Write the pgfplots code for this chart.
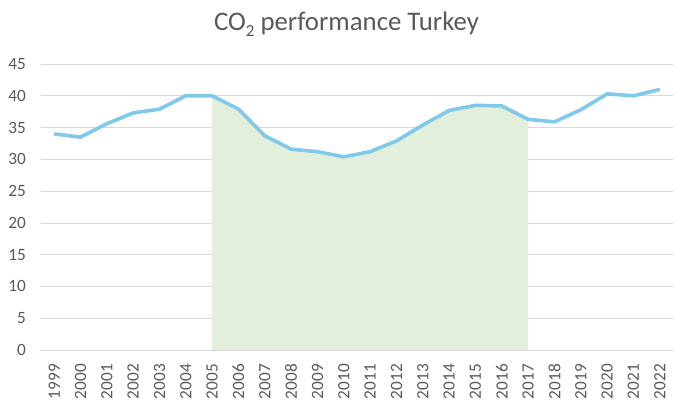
\documentclass[border=0pt]{standalone}
\usepackage{pgfplots}
\pgfplotsset{compat=1.18}
\usepackage{fontspec}
\setmainfont{Carlito}
\definecolor{linec}{HTML}{7FC9EB}
\definecolor{fillc}{HTML}{E2EFDA}
\definecolor{gridc}{HTML}{D9D9D9}
\definecolor{textc}{HTML}{595959}
\begin{document}
\begin{tikzpicture}
\useasboundingbox (-41bp,-55bp) rectangle (652bp,350bp);
\begin{axis}[
  at={(0,0)}, anchor=south west,
  scale only axis, width=632bp, height=286bp,
  xmin=1998.5, xmax=2022.5, ymin=0, ymax=45,
  xtick={1999,...,2022}, ytick={0,5,...,45},
  ymajorgrids, grid style={gridc, line width=0.75bp},
  axis line style={draw=none},
  major tick length=0pt,
  /pgf/number format/1000 sep={},
  /pgf/number format/assume math mode=true,
  tick label style={font=\fontsize{17.3}{20}\selectfont, text=textc},
  x tick label style={rotate=90, anchor=east, inner sep=0pt},
  xticklabel shift=14bp,
  y tick label style={anchor=east, inner sep=0pt},
  yticklabel shift=15bp,
  title={CO\raisebox{-0.5ex}{\fontsize{17}{17}\selectfont 2} performance Turkey},
  title style={at={(axis description cs:0.4834,1)}, anchor=center, yshift=34bp,
    font=\fontsize{26.9}{30}\selectfont, text=textc},
  clip=false,
]
\draw[gridc, line width=0.75bp] (axis cs:1998.5,0) -- (axis cs:2022.5,0);
\addplot[fill=fillc, draw=none] coordinates {
(2005,40.0) (2006,37.9) (2007,33.7) (2008,31.6) (2009,31.2) (2010,30.4)
(2011,31.2) (2012,32.9) (2013,35.4) (2014,37.7) (2015,38.5) (2016,38.4) (2017,36.3)
} \closedcycle;
\addplot[linec, line width=3.6bp, mark=none] coordinates {
(1999,34.0) (2000,33.5) (2001,35.6) (2002,37.3) (2003,37.9) (2004,40.0)
(2005,40.0) (2006,37.9) (2007,33.7) (2008,31.6) (2009,31.2) (2010,30.4)
(2011,31.2) (2012,32.9) (2013,35.4) (2014,37.7) (2015,38.5) (2016,38.4) (2017,36.3)
(2018,35.9) (2019,37.8) (2020,40.3) (2021,40.0) (2022,41.0)
};
\end{axis}
\end{tikzpicture}
\end{document}
